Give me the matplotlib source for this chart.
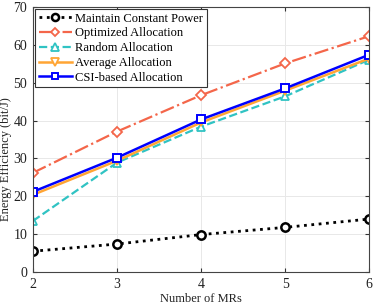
import numpy as np
import matplotlib
matplotlib.use('Agg')
import matplotlib.pyplot as plt

plt.rcParams['font.family'] = ['Liberation Serif', 'DejaVu Serif']

# data
num_mrs = [2, 3, 4, 5, 6]
constant_power = [5.5, 7.4, 9.9, 11.8, 14.0]
optimized = [26.2, 37.1, 46.7, 55.1, 62.3]
random_alloc = [13.5, 28.9, 38.4, 46.4, 56.1]
average_alloc = [20.4, 29.4, 39.5, 47.9, 56.4]
csi_based = [21.2, 30.2, 40.3, 48.5, 57.4]

fig, ax = plt.subplots(figsize=(3.74, 3.05), dpi=100)
fig.subplots_adjust(left=0.088, right=0.987, top=0.977, bottom=0.108)

ax.plot(num_mrs, constant_power, ':', color='black', lw=2, marker='o',
        ms=6, mfc='white', mew=1.8, label='Maintain Constant Power')
ax.plot(num_mrs, optimized, '-.', color='#F4664A', lw=1.6, marker='D',
        ms=5, mfc='white', mew=1.3, label='Optimized Allocation')
ax.plot(num_mrs, random_alloc, '--', color='#30C3C3', lw=1.6, marker='^',
        ms=6, mfc='white', mew=1.3, label='Random Allocation')
ax.plot(num_mrs, average_alloc, '-', color='#FFA534', lw=1.8, marker='v',
        ms=6, mfc='white', mew=1.3, label='Average Allocation')
ax.plot(num_mrs, csi_based, '-', color='#0000FF', lw=1.8, marker='s',
        ms=5.5, mfc='white', mew=1.4, label='CSI-based Allocation')

ax.set_xlim(2, 6)
ax.set_ylim(0, 70)
ax.set_xticks(num_mrs)
ax.set_yticks(np.arange(0, 71, 10))
ax.tick_params(direction='in', labelsize=10, length=3, colors='#333333',
               top=True, right=True, pad=4)
for lab in ax.get_xticklabels() + ax.get_yticklabels():
    lab.set_color('#222222')
ax.grid(True, color='#e8e8e8', lw=0.7)
for s in ax.spines.values():
    s.set_color('#444444')
    s.set_linewidth(0.8)

ax.set_xlabel('Number of MRs', fontsize=9, labelpad=2, color='#222222')
ax.set_ylabel('Energy Efficiency (bit/J)', fontsize=9, color='#222222')
ax.yaxis.set_label_coords(-0.061, 0.426)

leg = ax.legend(loc='upper left', fontsize=9, fancybox=False,
                edgecolor='#333333', framealpha=1, handlelength=2.7,
                borderaxespad=0.15, borderpad=0.3, labelspacing=0.22,
                handletextpad=0.25, markerscale=0.85)
leg.get_frame().set_linewidth(0.8)

fig.savefig('out.png', dpi=100)
